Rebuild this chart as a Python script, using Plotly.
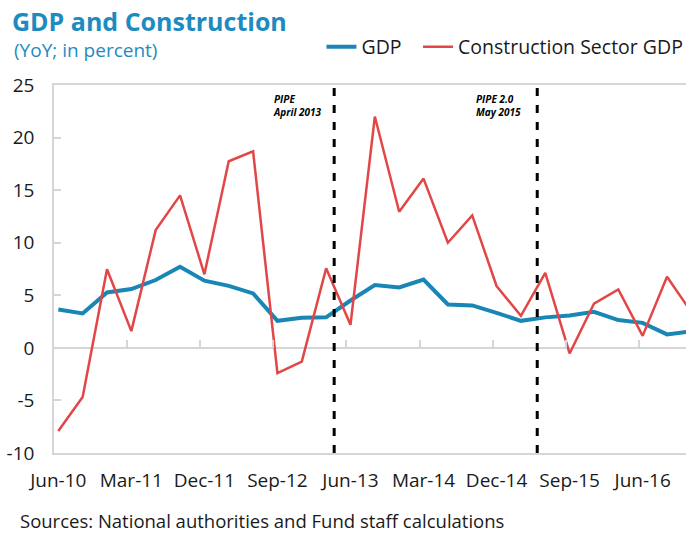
import plotly.graph_objects as go

# ---- data (YoY, percent), quarterly from Jun-10 ----
quarters = ["Jun-10", "Sep-10", "Dec-10", "Mar-11", "Jun-11", "Sep-11", "Dec-11",
            "Mar-12", "Jun-12", "Sep-12", "Dec-12", "Mar-13", "Jun-13", "Sep-13",
            "Dec-13", "Mar-14", "Jun-14", "Sep-14", "Dec-14", "Mar-15", "Jun-15",
            "Sep-15", "Dec-15", "Mar-16", "Jun-16", "Sep-16", "Dec-16"]
gdp = [3.65, 3.27, 5.27, 5.59, 6.45, 7.72, 6.39, 5.9, 5.18, 2.57, 2.86, 2.9, 4.5,
       5.97, 5.75, 6.5, 4.13, 4.04, 3.33, 2.57, 2.9, 3.08, 3.43, 2.64, 2.38, 1.28, 1.58]
construction = [-7.9, -4.67, 7.47, 1.59, 11.2, 14.5, 7.0, 17.75, 18.7, -2.4, -1.3, 7.56,
                2.2, 22.0, 12.95, 16.1, 10.0, 12.6, 5.88, 3.05, 7.14, -0.53, 4.2, 5.56,
                1.14, 6.76, 3.4]
tick_every = 3
y_ticks = [-10, -5, 0, 5, 10, 15, 20, 25]
y_tick_text = ["-10", "-5", "0", "5", "10", "15", "20", "25"]
# events: label, position in quarter index units (Apr-2013, May-2015)
event_labels = ["PIPE<br>April 2013", "PIPE 2.0<br>May 2015"]
event_pos = [11.33, 19.67]

idx = list(range(len(quarters)))
tick_idx = idx[::tick_every][:9]
tick_txt = [quarters[i] for i in tick_idx]

BLUE_T = "#1e8bc0"
BLUE = "#1a86b6"
RED = "#e24646"
GRAY = "#d6d6d6"
FONT = "Open Sans"

W, H = 686, 533

fig = go.Figure()
fig.add_trace(go.Scatter(x=idx, y=gdp, mode="lines", name="GDP", legend="legend",
                         line=dict(color=BLUE, width=4)))
fig.add_trace(go.Scatter(x=idx, y=construction, mode="lines",
                         name="Construction Sector GDP", legend="legend2",
                         line=dict(color=RED, width=2.5)))
fig.add_trace(go.Scatter(x=[None], y=[None], xaxis="x2", showlegend=False,
                         hoverinfo="skip"))

for lab, xp in zip(event_labels, event_pos):
    fig.add_shape(type="line", xref="x", yref="y", x0=xp, x1=xp, y0=-10, y1=25,
                  line=dict(color="black", width=3, dash="8px,9px"))
    fig.add_annotation(x=xp, y=25, xref="x", yref="y", xanchor="left", yanchor="top",
                       xshift=-63, yshift=-5, text="<b><i>" + lab + "</i></b>",
                       showarrow=False, align="left",
                       font=dict(family=FONT, size=10, color="black"))

leg_common = dict(orientation="h", xanchor="left", y=1.103, yanchor="middle",
                  font=dict(family=FONT, size=19.5, color="#1a1a1a"),
                  bgcolor="rgba(0,0,0,0)", itemwidth=30)

xr = [-0.177, 25.78]
fig.update_layout(
    width=W, height=H,
    margin=dict(l=54, r=0, t=85, b=80, autoexpand=False),
    paper_bgcolor="white", plot_bgcolor="white",
    font=dict(family=FONT, size=19, color="#1a1a1a"),
    title=dict(text="<b>GDP and Construction</b>", xref="container", yref="container",
               x=12 / W, xanchor="left", y=1 - 22 / H, yanchor="middle",
               font=dict(family=FONT, size=25, color=BLUE_T)),
    showlegend=True,
    legend=dict(x=0.4232, **leg_common),
    legend2=dict(x=0.5760, **leg_common),
    xaxis=dict(range=xr, tickmode="array", tickvals=tick_idx, ticktext=tick_txt,
               showgrid=False, zeroline=False, showline=True, linecolor=GRAY,
               linewidth=1.5, mirror=True, ticks="", ticklabelstandoff=9,
               tickfont=dict(family=FONT, size=19, color="#1a1a1a")),
    xaxis2=dict(range=xr, overlaying="x", anchor="free", position=10 / 35,
                side="bottom", tickmode="array",
                tickvals=[i - 0.165 for i in tick_idx[1:]],
                ticks="inside", ticklen=8, tickwidth=1.5, tickcolor=GRAY,
                showticklabels=False, showline=False, showgrid=False, zeroline=False),
    yaxis=dict(range=[-10, 25], tickmode="array", tickvals=y_ticks, ticktext=y_tick_text,
               showgrid=False, zeroline=True, zerolinecolor=GRAY, zerolinewidth=1.5,
               showline=True, linecolor=GRAY, linewidth=1.5, ticks="inside",
               ticklen=7, tickwidth=1.5, tickcolor=GRAY, ticklabelstandoff=14,
               tickfont=dict(family=FONT, size=19, color="#1a1a1a")),
)

fig.add_annotation(text="(YoY; in percent)", xref="paper", yref="paper",
                   x=(12 - 54) / 632, y=(453 - 50) / 368, xanchor="left", yanchor="middle",
                   showarrow=False, font=dict(family=FONT, size=19, color=BLUE_T))
fig.add_annotation(text="Sources: National authorities and Fund staff calculations",
                   xref="paper", yref="paper", x=(18 - 54) / 632, y=(453 - 520.5) / 368,
                   xanchor="left", yanchor="middle", showarrow=False,
                   font=dict(family=FONT, size=18.5, color="#1a1a1a"))

fig.write_html("out.html", config={"displayModeBar": False},
               post_script="document.body.style.margin='0';"
                           "document.body.style.overflow='hidden';")
